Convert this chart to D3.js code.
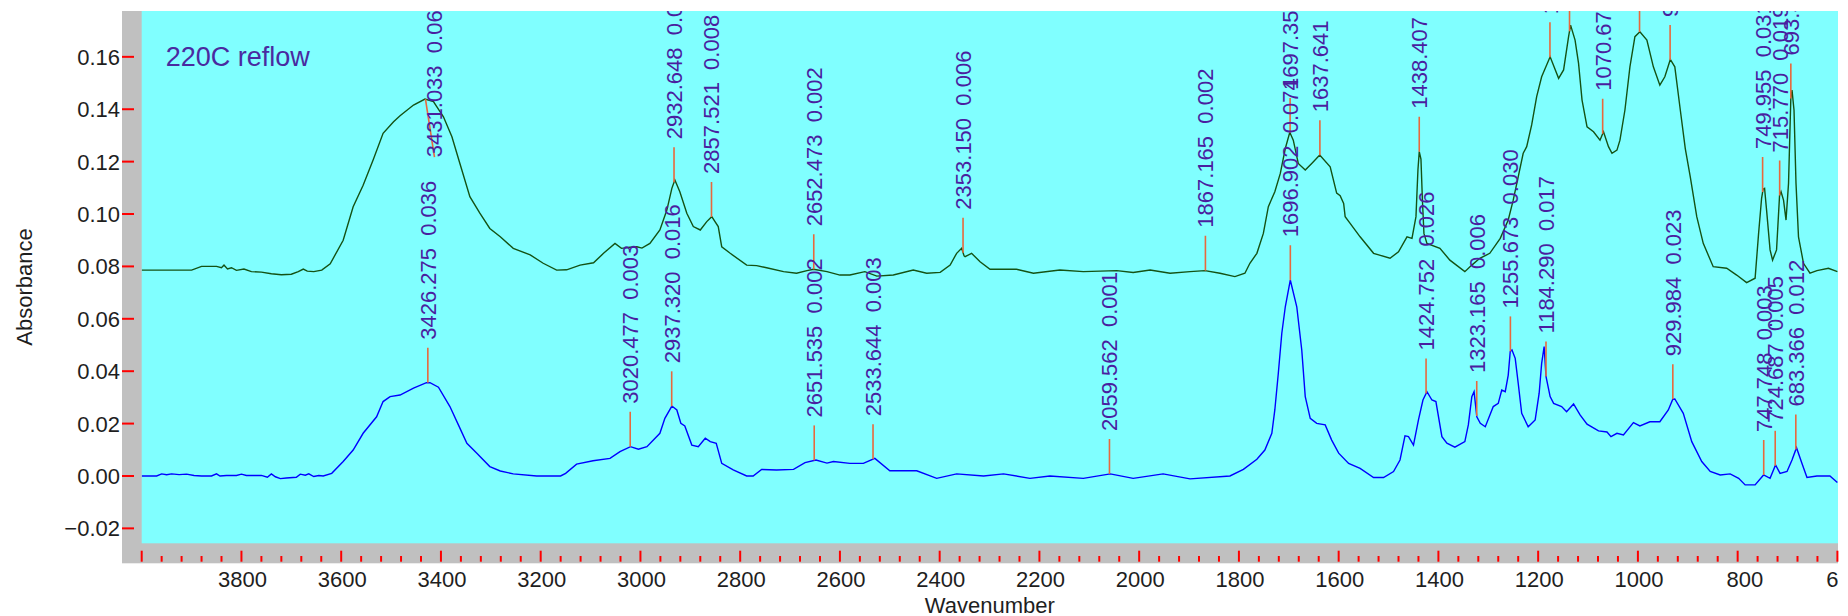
<!DOCTYPE html>
<html><head><meta charset="utf-8">
<script src="https://cdn.jsdelivr.net/npm/d3@7"></script>
<style>
body{margin:0;background:#fff}
svg{display:block}
text{font-family:"Liberation Sans",Arial,sans-serif}
</style>
</head><body>
<svg id="chart" width="1848" height="616"></svg>
<script>
// ---- data (wavenumber, absorbance) ----
const topSeries = [[4000,0.0786],[3900,0.0786],[3880,0.0800],[3850,0.0800],[3840,0.0795],[3835,0.0805],[3828,0.0790],[3820,0.0795],[3810,0.0785],[3795,0.0790],[3780,0.0780],[3760,0.0778],[3740,0.0772],[3720,0.0768],[3700,0.0770],[3686,0.0780],[3676,0.0790],[3668,0.0782],[3655,0.0780],[3639,0.0786],[3622,0.0810],[3596,0.0900],[3576,0.1028],[3556,0.1110],[3536,0.1206],[3516,0.1308],[3495,0.1352],[3482,0.1375],[3455,0.1416],[3432,0.1439],[3415,0.1429],[3395,0.1371],[3378,0.1295],[3362,0.1193],[3342,0.1066],[3322,0.1003],[3302,0.0945],[3281,0.0913],[3255,0.0869],[3221,0.0844],[3195,0.0812],[3168,0.0786],[3148,0.0787],[3121,0.0805],[3094,0.0814],[3074,0.0850],[3051,0.0888],[3038,0.0869],[3021,0.0873],[3007,0.0875],[2997,0.0870],[2981,0.0888],[2961,0.0939],[2947,0.1015],[2937,0.1098],[2931,0.1130],[2921,0.1085],[2907,0.1003],[2894,0.0952],[2880,0.0939],[2867,0.0971],[2857,0.0990],[2844,0.0952],[2837,0.0875],[2820,0.0850],[2787,0.0805],[2767,0.0803],[2747,0.0795],[2713,0.0780],[2687,0.0774],[2666,0.0784],[2653,0.0789],[2626,0.0780],[2600,0.0767],[2580,0.0767],[2550,0.0780],[2526,0.0763],[2493,0.0767],[2453,0.0786],[2426,0.0774],[2399,0.0777],[2379,0.0805],[2366,0.0850],[2356,0.0869],[2351,0.0840],[2349,0.0837],[2336,0.0850],[2319,0.0818],[2299,0.0789],[2246,0.0789],[2212,0.0774],[2159,0.0786],[2112,0.0780],[2045,0.0784],[2012,0.0777],[1978,0.0786],[1938,0.0774],[1898,0.0780],[1868,0.0784],[1838,0.0774],[1808,0.0761],[1788,0.0774],[1778,0.0812],[1764,0.0850],[1751,0.0926],[1741,0.1028],[1728,0.1085],[1717,0.1155],[1707,0.1250],[1698,0.1312],[1691,0.1282],[1681,0.1193],[1667,0.1168],[1654,0.1193],[1638,0.1225],[1617,0.1180],[1604,0.1080],[1597,0.1070],[1590,0.1040],[1587,0.0990],[1577,0.0964],[1557,0.0913],[1530,0.0850],[1497,0.0831],[1480,0.0856],[1463,0.0913],[1453,0.0907],[1445,0.0990],[1441,0.1170],[1438.4,0.1238],[1435,0.1210],[1432,0.1050],[1429,0.0926],[1423,0.0888],[1397,0.0869],[1377,0.0824],[1347,0.0780],[1333,0.0805],[1317,0.0831],[1297,0.0850],[1276,0.0907],[1260,0.0977],[1250,0.1053],[1240,0.1142],[1230,0.1232],[1223,0.1257],[1213,0.1340],[1203,0.1448],[1193,0.1524],[1176,0.1600],[1159,0.1518],[1149,0.1550],[1139,0.1677],[1135,0.1721],[1126,0.1664],[1119,0.1575],[1112,0.1435],[1102,0.1333],[1089,0.1314],[1076,0.1282],[1069,0.1314],[1059,0.1257],[1052,0.1232],[1042,0.1244],[1036,0.1282],[1026,0.1397],[1016,0.1562],[1006,0.1677],[996,0.1696],[982,0.1664],[969,0.1562],[956,0.1492],[946,0.1524],[935,0.1590],[926,0.1562],[915,0.1397],[905,0.1250],[895,0.1142],[882,0.0990],[869,0.0888],[849,0.0799],[822,0.0793],[802,0.0767],[782,0.0738],[765,0.0755],[758,0.0926],[752,0.1060],[749,0.1095],[746,0.1098],[742,0.1015],[735,0.0863],[730,0.0824],[722,0.0863],[716,0.1070],[713,0.1085],[708,0.1053],[703,0.0977],[698,0.1117],[693.4,0.1441],[691,0.1473],[687,0.1397],[683,0.1117],[678,0.0913],[668,0.0812],[655,0.0774],[641,0.0784],[618,0.0793],[600,0.0780]];

const bottomSeries = [[4000,0.0000],[3970,0.0000],[3960,0.0008],[3950,0.0005],[3940,0.0008],[3925,0.0005],[3910,0.0007],[3895,0.0002],[3880,0.0000],[3860,0.0000],[3850,0.0008],[3843,0.0000],[3830,0.0002],[3810,0.0002],[3800,0.0007],[3790,0.0002],[3760,0.0002],[3748,-0.0005],[3740,0.0008],[3732,-0.0003],[3722,-0.0010],[3710,-0.0008],[3690,-0.0005],[3682,0.0007],[3672,0.0003],[3665,0.0008],[3655,-0.0002],[3645,0.0002],[3636,0.0000],[3619,0.0010],[3596,0.0055],[3576,0.0099],[3556,0.0163],[3529,0.0226],[3516,0.0284],[3502,0.0303],[3482,0.0309],[3455,0.0335],[3429,0.0356],[3422,0.0356],[3405,0.0339],[3382,0.0265],[3365,0.0195],[3348,0.0125],[3328,0.0087],[3302,0.0036],[3281,0.0019],[3255,0.0008],[3208,0.0000],[3160,0.0000],[3150,0.0010],[3128,0.0045],[3095,0.0058],[3061,0.0067],[3041,0.0093],[3020,0.0112],[3004,0.0102],[2987,0.0112],[2961,0.0163],[2951,0.0220],[2937,0.0267],[2927,0.0252],[2919,0.0201],[2911,0.0191],[2897,0.0118],[2884,0.0112],[2870,0.0144],[2860,0.0131],[2848,0.0125],[2837,0.0048],[2814,0.0023],[2787,0.0000],[2774,0.0000],[2757,0.0025],[2727,0.0023],[2693,0.0025],[2670,0.0051],[2648,0.0061],[2626,0.0049],[2613,0.0055],[2580,0.0048],[2553,0.0048],[2530,0.0067],[2500,0.0020],[2446,0.0020],[2406,-0.0009],[2366,0.0008],[2312,0.0000],[2272,0.0008],[2219,-0.0009],[2179,0.0000],[2112,-0.0009],[2058,0.0008],[2012,-0.0009],[1952,0.0008],[1898,-0.0011],[1818,0.0000],[1791,0.0025],[1764,0.0064],[1748,0.0099],[1734,0.0163],[1728,0.0252],[1721,0.0392],[1714,0.0545],[1707,0.0646],[1697,0.0748],[1684,0.0646],[1674,0.0481],[1667,0.0303],[1657,0.0220],[1644,0.0201],[1627,0.0195],[1614,0.0137],[1600,0.0087],[1580,0.0048],[1557,0.0029],[1530,-0.0006],[1510,-0.0006],[1490,0.0017],[1477,0.0061],[1467,0.0153],[1460,0.0150],[1450,0.0118],[1440,0.0214],[1431,0.0290],[1423,0.0322],[1413,0.0290],[1405,0.0284],[1393,0.0150],[1383,0.0125],[1367,0.0110],[1347,0.0131],[1340,0.0195],[1333,0.0303],[1328.5,0.0322],[1323,0.0226],[1316,0.0201],[1306,0.0188],[1290,0.0265],[1280,0.0277],[1273,0.0328],[1266,0.0322],[1260,0.0385],[1256,0.0475],[1252.5,0.0481],[1246,0.0449],[1240,0.0354],[1233,0.0239],[1220,0.0188],[1206,0.0214],[1198,0.0316],[1193,0.0430],[1188,0.0494],[1184.3,0.0380],[1176,0.0303],[1169,0.0277],[1153,0.0265],[1143,0.0245],[1129,0.0275],[1116,0.0233],[1102,0.0198],[1079,0.0172],[1062,0.0168],[1054,0.0150],[1042,0.0163],[1029,0.0157],[1009,0.0204],[996,0.0191],[976,0.0207],[956,0.0207],[939,0.0252],[930,0.0293],[926,0.0294],[909,0.0239],[892,0.0131],[872,0.0055],[855,0.0017],[835,0.0004],[815,0.0008],[798,-0.0009],[785,-0.0034],[765,-0.0034],[748,0.0004],[735,-0.0009],[724,0.0042],[715,0.0010],[701,0.0017],[691,0.0061],[682,0.0108],[671,0.0048],[661,-0.0006],[641,0.0000],[615,0.0000],[600,-0.0025]];

// peak picks: [wavenumber, peak height]
const topPeaks = [[3431.033,0.064],[2932.648,0.035],[2857.521,0.008],[2652.473,0.002],[2353.150,0.006],[1867.165,0.002],[1697.352,0.052],[1637.641,0.045],[1438.407,0.041],[1176.352,0.082],[1137.106,0.094],[1070.671,0.051],[996.723,0.092],[935.421,0.081],[749.955,0.031],[715.770,0.019],[693.367,0.070]];
const bottomPeaks = [[3426.275,0.036],[3020.477,0.003],[2937.320,0.016],[2651.535,0.002],[2533.644,0.003],[2059.562,0.001],[1696.902,0.074],[1424.752,0.026],[1323.165,0.006],[1255.673,0.030],[1184.290,0.017],[929.984,0.023],[747.748,0.003],[724.687,0.005],[683.366,0.012]];

const xMajorTicks = d3.range(4000, 599, -200);
const xMinorTicks = d3.range(4000, 599, -40);
const yTickValues = [-0.02, 0.00, 0.02, 0.04, 0.06, 0.08, 0.10, 0.12, 0.14, 0.16];
const titleText = "220C reflow";

// ---- layout ----
const svg = d3.select("#chart");
const P = {left:141.7, right:1838, top:11, bottom:543.3, frameLeft:122, frameBottom:563.3};
const x = d3.scaleLinear().domain([4000, 600]).range([P.left, 1837.4]);
const y = d3.scaleLinear().domain([-0.0257, 0.1775]).range([P.bottom, P.top]);

const defs = svg.append("defs");
defs.append("clipPath").attr("id","plotClip").append("rect")
  .attr("x",P.left).attr("y",P.top).attr("width",P.right-P.left).attr("height",P.bottom-P.top);
defs.append("clipPath").attr("id","labClip").append("rect")
  .attr("x",0).attr("y",0).attr("width",P.right).attr("height",616);

svg.append("rect").attr("width",1848).attr("height",616).attr("fill","#fff");
svg.append("rect").attr("x",P.frameLeft).attr("y",P.top)
  .attr("width",P.right-P.frameLeft).attr("height",P.frameBottom-P.top).attr("fill","#c0c0c0");
svg.append("rect").attr("x",P.left).attr("y",P.top)
  .attr("width",P.right-P.left).attr("height",P.bottom-P.top).attr("fill","#80ffff");

// y ticks
svg.append("g").selectAll("line").data(yTickValues).join("line")
  .attr("x1",P.frameLeft).attr("x2",134).attr("y1",d=>y(d)).attr("y2",d=>y(d))
  .attr("stroke","#ff0000").attr("stroke-width",2);
svg.append("g").selectAll("text").data(yTickValues).join("text")
  .attr("x",120).attr("y",d=>y(d)).attr("dy","0.36em").attr("text-anchor","end")
  .attr("font-size",22).attr("fill","#1e1e1e").text(d=>d3.format(".2f")(d));

// x ticks
svg.append("g").selectAll("line").data(xMinorTicks).join("line")
  .attr("x1",d=>x(d)).attr("x2",d=>x(d))
  .attr("y1",d=>xMajorTicks.includes(d)?550.7:556).attr("y2",561.7)
  .attr("stroke","#ff0000").attr("stroke-width",2);
svg.append("g").attr("clip-path","url(#labClip)").selectAll("text")
  .data(xMajorTicks.filter(d=>d<4000)).join("text")
  .attr("x",d=>x(d)+25.5).attr("y",587).attr("text-anchor","end")
  .attr("font-size",22).attr("fill","#1e1e1e").text(d=>d);

// axis titles
svg.append("text").attr("x",(P.left+P.right)/2).attr("y",612.5).attr("text-anchor","middle")
  .attr("font-size",22).attr("fill","#1e1e1e").text("Wavenumber");
svg.append("text").attr("transform","translate(31.5,287) rotate(-90)").attr("text-anchor","middle")
  .attr("font-size",22).attr("fill","#1e1e1e").text("Absorbance");

// curves
const plotG = svg.append("g").attr("clip-path","url(#plotClip)");
const line = d3.line().x(d=>x(d[0])).y(d=>y(d[1]));
plotG.append("path").datum(topSeries).attr("d",line).attr("fill","none")
  .attr("stroke","#145214").attr("stroke-width",1.4);
plotG.append("path").datum(bottomSeries).attr("d",line).attr("fill","none")
  .attr("stroke","#0000ff").attr("stroke-width",1.4);

// title
plotG.append("text").attr("x",165.7).attr("y",65.5).attr("font-size",27)
  .attr("fill","#4a2aa0").text(titleText);

// peak annotations
function valueAt(series, wn){
  for(let i=0;i<series.length-1;i++){
    const a=series[i][0], va=series[i][1], b=series[i+1][0], vb=series[i+1][1];
    if(wn<=a && wn>=b) return va + (vb-va)*(a-wn)/(a-b);
  }
  return series[series.length-1][1];
}
// label placement exceptions (index in topPeaks -> pixel shift of the label anchor)
const labelShiftTop = {0:{dx:9, dy:93, gap:0}};
function drawPeaks(peaks, series, shifts){
  peaks.forEach((p,i)=>{
    const s = shifts[i] || {dx:0, dy:0, gap:8};
    const xp = x(p[0]), yp = y(valueAt(series,p[0]));
    const xe = xp + s.dx, ye = yp - 35 + s.dy;
    plotG.append("line").attr("x1",xp).attr("y1",yp).attr("x2",xe).attr("y2",ye)
      .attr("stroke","#e8683c").attr("stroke-width",1.6);
    plotG.append("text").attr("transform",`translate(${xe},${ye - s.gap}) rotate(-90)`)
      .attr("dy","0.36em").attr("font-size",22).attr("fill","#4a1ea0")
      .style("white-space","pre")
      .text(p[0].toFixed(3) + "  " + p[1].toFixed(3));
  });
}
drawPeaks(topPeaks, topSeries, labelShiftTop);
drawPeaks(bottomPeaks, bottomSeries, {});
</script>
</body></html>
